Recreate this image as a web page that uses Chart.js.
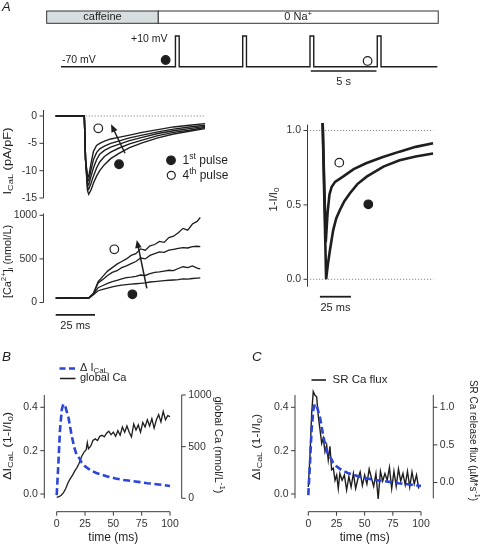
<!DOCTYPE html>
<html>
<head>
<meta charset="utf-8">
<title>I_CaL and SR Ca release</title>
<script src="https://cdn.jsdelivr.net/npm/chart.js@4.4.1/dist/chart.umd.min.js"></script>
<style>
  body { margin: 0; background: #fff; }
  #fig { position: relative; width: 480px; height: 544px; overflow: hidden; }
  #fig canvas { position: absolute; left: 0; top: 0; }
</style>
</head>
<body>
<div id="fig">
  <canvas id="cProt" width="480" height="544"></canvas>
  <canvas id="cCur" width="480" height="544"></canvas>
  <canvas id="cCa" width="480" height="544"></canvas>
  <canvas id="cInh" width="480" height="544"></canvas>
  <canvas id="cB" width="480" height="544"></canvas>
  <canvas id="cC" width="480" height="544"></canvas>
</div>
<script>
// ---------- data ----------

// A, protocol: time (s) / voltage (mV)
const protT = [-8.54, 0, 0, 0.28, 0.28, 5.02, 5.02, 5.3, 5.3, 10.04, 10.04, 10.32, 10.32, 15.06, 15.06, 15.34, 15.34, 19.54];
const protV = [-70, -70, 10, 10, -70, -70, 10, 10, -70, -70, 10, 10, -70, -70, 10, 10, -70, -70];
const solName = ['caffeine', '0 Na^{+}'];
const solFrom = [-9.61, -1.28];
const solTo = [-1.28, 19.61];
const protDotT = [-0.73, 14.34];
const protDotV = [-52.5, -55];
const protDotFill = [true, false];
const protBarT = [10.1, 15];   // 5 s

// A, I_CaL (pA/pF) vs time (ms), 1st pulse ... 4th pulse
const curT = [0, 18.2, 19, 20.2, 21, 22.5, 24, 26, 28, 31, 35, 40, 47, 55, 65, 75, 85, 95];
const curP1 = [0, 0, -8, -13.6, -14.3, -13.5, -12.3, -11.0, -10.0, -8.9, -7.8, -6.9, -5.8, -4.9, -4.0, -3.3, -2.8, -2.3];
const curP2 = [0, 0, -8, -12.9, -13.4, -12.3, -11.0, -9.5, -8.4, -7.4, -6.6, -5.9, -5.1, -4.4, -3.6, -3.0, -2.6, -2.1];
const curP3 = [0, 0, -8, -12.2, -12.6, -11.0, -9.5, -8.0, -7.0, -6.3, -5.7, -5.2, -4.5, -3.9, -3.2, -2.7, -2.3, -1.9];
const curP4 = [0, 0, -8, -11.5, -11.8, -9.8, -8.0, -6.7, -6.0, -5.5, -5.0, -4.6, -4.0, -3.5, -2.9, -2.4, -2.0, -1.7];
const curP5 = [0, 0, -8, -10.8, -11.1, -8.6, -6.5, -5.4, -5.0, -4.6, -4.2, -3.9, -3.5, -3.0, -2.5, -2.0, -1.7, -1.4];
const curZeroT = [0, 95];
const curZeroV = [0, 0];
const curDotT = [27.1, 40.3];
const curDotV = [-2.25, -8.83];
const curDotFill = [false, true];
const curArrowT = [44.1, 35.2];
const curArrowV = [-6.82, -1.5];
const curTicks = [0, -5, -10, -15];

// A, [Ca2+]i (nmol/L) vs time (ms)
const caT = [0, 3, 6, 9, 12, 15, 18, 21, 24, 27, 30, 33, 36, 39, 42, 45, 48, 51, 54, 57, 60, 63, 66, 69, 72, 75, 78, 81, 84, 87, 90, 92];
const caP1 = [48, 52, 50, 55, 49, 51, 53, 47, 90, 135, 150, 165, 180, 190, 200, 205, 210, 215, 220, 225, 235, 240, 245, 250, 255, 258, 262, 270, 268, 275, 280, 282];
const caP2 = [53, 49, 52, 47, 54, 50, 48, 52, 95, 170, 195, 220, 240, 255, 270, 285, 290, 300, 315, 310, 330, 345, 350, 360, 370, 365, 390, 410, 400, 420, 395, 385];
const caP3 = [50, 54, 47, 52, 49, 51, 55, 50, 100, 225, 265, 310, 345, 365, 400, 420, 445, 470, 510, 500, 540, 560, 580, 575, 600, 610, 620, 630, 625, 640, 645, 640];
const caP4 = [52, 48, 55, 50, 47, 53, 49, 56, 105, 240, 300, 360, 400, 440, 470, 500, 540, 560, 615, 600, 650, 665, 700, 690, 745, 760, 800, 850, 830, 900, 930, 975];
const caDotT = [37.3, 48.8];
const caDotV = [610, 94];
const caDotFill = [false, true];
const caArrowT = [58, 51.6];
const caArrowV = [163, 717];
const caTicks = [0, 500, 1000];

// A, 1 - I/I0 vs time (ms)
const inhT4 = [0, 2.5, 4, 5.5, 7.2, 10, 16.4, 25, 35, 48, 62, 75, 89];
const inh4 = [1.05, 0.25, 0.45, 0.57, 0.62, 0.655, 0.69, 0.74, 0.78, 0.82, 0.858, 0.89, 0.915];
const inhT1 = [0, 2.8, 4.2, 5.9, 8.5, 11, 13.9, 17.5, 22, 28, 35.5, 49, 62, 75, 89];
const inh1 = [1.05, 0.0, 0.1, 0.197, 0.331, 0.41, 0.466, 0.525, 0.578, 0.64, 0.69, 0.757, 0.8, 0.825, 0.845];
const inhRefT = [-10.2, 89.2];
const inhDotT = [13.4, 36.8];
const inhDotV = [0.784, 0.504];
const inhDotFill = [false, true];
const inhTicks = [0, 0.5, 1];
const inhTickLabels = ['0.0', '0.5', '1.0'];

// B and C, delta I_CaL (1-I/I0) vs time (ms)
const dT = [0, 1.5, 2.9, 4.5, 5.9, 7.5, 10.3, 13.2, 15.5, 17.6, 20, 22, 25, 29.4, 35, 44, 52, 59, 66, 73.5, 80, 90, 100];
const dIcal = [-0.005, 0.142, 0.295, 0.39, 0.415, 0.405, 0.355, 0.27, 0.215, 0.18, 0.165, 0.145, 0.128, 0.111, 0.097, 0.082, 0.072, 0.065, 0.06, 0.055, 0.05, 0.044, 0.037];

// B, global Ca (nmol/L) vs time (ms)
const gCaT = [0, 2, 4, 6, 8, 10, 12, 14, 16, 18, 20, 22, 24, 26, 27, 28, 30, 32, 34, 36, 38, 40, 42, 44, 46, 48, 50, 52, 54, 56, 58, 60, 62, 64, 66, 68, 70, 72, 74, 76, 78, 80, 82, 84, 86, 88, 90, 92, 94, 96, 98, 100];
const gCa = [10, 15, 30, 55, 95, 150, 190, 225, 265, 300, 345, 405, 445, 470, 540, 480, 505, 560, 575, 560, 600, 610, 595, 630, 650, 615, 640, 600, 655, 610, 690, 640, 700, 640, 595, 720, 660, 710, 640, 735, 690, 760, 700, 770, 680, 760, 810, 740, 840, 760, 800, 790];

// C, SR Ca release flux (uM/s) vs time (ms)
const srT = [0, 1.5, 3, 4.4, 5.9, 7.4, 8.9, 10.4, 11.9, 13.3, 14.8, 16.3, 17.7, 19.2, 20.7, 22.2, 23.7, 25.2, 26.6, 28,
  30, 32, 34, 36, 38, 40, 42, 44, 46, 48, 50, 52, 54, 56, 58, 60, 62, 64, 66, 68, 70, 72, 74, 76, 78, 80, 82, 84, 86, 88, 90, 92, 94, 96, 98];
const srFlux = [-0.06, 0.35, 0.92, 1.21, 1.16, 1.14, 0.88, 0.70, 0.52, 0.59, 0.41, 0.50, 0.30, 0.48, 0.17, 0.19, 0.03, 0.10, -0.08, 0.12,
  0.03, 0.10, -0.10, 0.08, -0.06, 0.12, -0.08, 0.05, 0.14, -0.04, 0.10, -0.02, 0.18, 0.06, -0.05, 0.12, -0.22, 0.15, 0.02, 0.12,
  0.03, 0.20, -0.08, 0.15, -0.05, 0.18, 0.02, 0.12, -0.03, 0.15, -0.06, 0.14, -0.02, 0.10, -0.08];

const timeTicks = [0, 25, 50, 75, 100];
const fracTicks = [0, 0.2, 0.4];
const fracTickLabels = ['0.0', '0.2', '0.4'];
const gCaTicks = [0, 500, 1000];
const srTicks = [0, 0.5, 1];
const srTickLabels = ['0.0', '0.5', '1.0'];

// ---------- helpers ----------
const FONT = '"Liberation Sans", Arial, Helvetica, sans-serif';
const INK = '#1e1e1e';
const AXC = '#3a3a3a';
const BLUE = '#2a45d8';

function pts(xs, ys) { return xs.map((x, i) => ({ x: x, y: ys[i] })); }

function pad(l, t, r, b) { return { left: l, top: t, right: 480 - r, bottom: 544 - b }; }

function trace(xs, ys, extra) {
  return Object.assign({
    data: pts(xs, ys), borderColor: INK, borderWidth: 1.3, pointRadius: 0,
    tension: 0, fill: false, clip: false
  }, extra || {});
}

function dots(xs, ys, filled) {
  return {
    data: pts(xs, ys), showLine: false, pointRadius: 4.3, pointBorderWidth: 1.2,
    pointBorderColor: INK, pointBackgroundColor: filled.map(f => f ? INK : '#fff'), clip: false
  };
}

function parse(str) {
  const out = [];
  const re = /([_^])\{([^}]*)\}|([^_^]+)/g;
  let m;
  while ((m = re.exec(str))) {
    if (m[1]) out.push({ t: m[2], k: m[1] });
    else out.push({ t: m[3], k: '' });
  }
  return out;
}

// text with _{sub} and ^{sup}; o: size, align, rot, fit, italic
function rich(ctx, str, x, y, o) {
  o = o || {};
  const size = o.size || 11, align = o.align || 'left';
  const segs = parse(str);
  ctx.save();
  ctx.translate(x, y);
  if (o.rot) ctx.rotate(o.rot);
  ctx.fillStyle = o.color || INK;
  ctx.textBaseline = 'middle';
  ctx.textAlign = 'left';
  let w = 0;
  segs.forEach(s => {
    s.sz = s.k ? size * 0.72 : size;
    s.f = (o.italic ? 'italic ' : '') + s.sz + 'px ' + FONT;
    ctx.font = s.f;
    s.w = ctx.measureText(s.t).width;
    s.dy = s.k === '_' ? size * 0.3 : s.k === '^' ? -size * 0.33 : 0;
    w += s.w;
  });
  if (o.fit) ctx.scale(o.fit / w, 1);
  let cx = align === 'center' ? -w / 2 : align === 'right' ? -w : 0;
  segs.forEach(s => {
    ctx.font = s.f;
    ctx.fillText(s.t, cx, s.dy);
    cx += s.w;
  });
  ctx.restore();
}

// R style detached vertical axis at page x
function vAxis(chart, sid, xPix, lo, hi, ticks, labels, side) {
  const s = chart.scales[sid], ctx = chart.ctx;
  ctx.save();
  ctx.strokeStyle = AXC;
  ctx.lineWidth = 1;
  ctx.beginPath();
  ctx.moveTo(xPix, s.getPixelForValue(hi));
  ctx.lineTo(xPix, s.getPixelForValue(lo));
  ticks.forEach(v => {
    const y = s.getPixelForValue(v);
    ctx.moveTo(xPix, y);
    ctx.lineTo(xPix + side * 4, y);
  });
  ctx.stroke();
  ctx.restore();
  ticks.forEach((v, i) => rich(ctx, String(labels[i]), xPix + side * 6.5, s.getPixelForValue(v),
    { size: 10.5, align: side < 0 ? 'right' : 'left', color: '#333' }));
}

function hAxis(chart, yPix, ticks) {
  const s = chart.scales.x, ctx = chart.ctx;
  ctx.save();
  ctx.strokeStyle = AXC;
  ctx.lineWidth = 1;
  ctx.beginPath();
  ctx.moveTo(s.getPixelForValue(ticks[0]), yPix);
  ctx.lineTo(s.getPixelForValue(ticks[ticks.length - 1]), yPix);
  ticks.forEach(v => {
    const x = s.getPixelForValue(v);
    ctx.moveTo(x, yPix);
    ctx.lineTo(x, yPix + 4);
  });
  ctx.stroke();
  ctx.restore();
  ticks.forEach(v => rich(ctx, String(v), s.getPixelForValue(v), yPix + 12.5, { size: 10.5, align: 'center', color: '#333' }));
}

function seg(ctx, x0, y0, x1, y1, lw, color, dash) {
  ctx.save();
  ctx.strokeStyle = color || INK;
  ctx.lineWidth = lw;
  if (dash) ctx.setLineDash(dash);
  ctx.beginPath();
  ctx.moveTo(x0, y0);
  ctx.lineTo(x1, y1);
  ctx.stroke();
  ctx.restore();
}

function arrow(chart, ts, vs) {
  const ctx = chart.ctx, sx = chart.scales.x, sy = chart.scales.y;
  const x0 = sx.getPixelForValue(ts[0]), y0 = sy.getPixelForValue(vs[0]);
  const x1 = sx.getPixelForValue(ts[1]), y1 = sy.getPixelForValue(vs[1]);
  const a = Math.atan2(y1 - y0, x1 - x0), L = 8, W = 3.3;
  seg(ctx, x0, y0, x1 - L * 0.7 * Math.cos(a), y1 - L * 0.7 * Math.sin(a), 1.5);
  ctx.save();
  ctx.fillStyle = INK;
  ctx.beginPath();
  ctx.moveTo(x1, y1);
  ctx.lineTo(x1 - L * Math.cos(a) + W * Math.sin(a), y1 - L * Math.sin(a) - W * Math.cos(a));
  ctx.lineTo(x1 - L * Math.cos(a) - W * Math.sin(a), y1 - L * Math.sin(a) + W * Math.cos(a));
  ctx.closePath();
  ctx.fill();
  ctx.restore();
}

function circle(ctx, x, y, r, filled) {
  ctx.save();
  ctx.beginPath();
  ctx.arc(x, y, r, 0, Math.PI * 2);
  ctx.fillStyle = filled ? INK : '#fff';
  ctx.fill();
  ctx.strokeStyle = INK;
  ctx.lineWidth = 1.2;
  ctx.stroke();
  ctx.restore();
}

function makeChart(id, datasets, scales, padding, draw) {
  return new Chart(document.getElementById(id), {
    type: 'line',
    data: { datasets: datasets },
    options: {
      responsive: false,
      animation: false,
      events: [],
      layout: { padding: padding },
      plugins: { legend: { display: false }, tooltip: { enabled: false } },
      scales: scales
    },
    plugins: [{ id: 'deco_' + id, afterDraw: draw }]
  });
}

function lin(min, max, pos) {
  return { type: 'linear', min: min, max: max, display: false, position: pos || 'left' };
}

// ---------- A: protocol ----------
makeChart('cProt',
  [dots(protDotT, protDotV, protDotFill), trace(protT, protV, { borderWidth: 1.4 })],
  { x: lin(-8.54, 19.54), y: lin(-70, 10) },
  pad(61, 36, 437.3, 66.7),
  function (chart) {
    const ctx = chart.ctx, sx = chart.scales.x, sy = chart.scales.y;
    solName.forEach((name, i) => {
      const x0 = sx.getPixelForValue(solFrom[i]), x1 = sx.getPixelForValue(solTo[i]);
      ctx.save();
      ctx.fillStyle = i === 0 ? '#d7dee0' : '#fff';
      ctx.fillRect(x0, 11, x1 - x0, 12.3);
      ctx.strokeStyle = '#333';
      ctx.lineWidth = 1;
      ctx.strokeRect(x0, 11, x1 - x0, 12.3);
      ctx.restore();
      rich(ctx, name, (x0 + x1) / 2, 17.3, { size: 11, align: 'center' });
    });
    const yb = sy.getPixelForValue(-81.2);
    seg(ctx, sx.getPixelForValue(protBarT[0]), yb, sx.getPixelForValue(protBarT[1]), yb, 1.4);
    rich(ctx, '5 s', (sx.getPixelForValue(protBarT[0]) + sx.getPixelForValue(protBarT[1])) / 2, 82, { size: 11, align: 'center' });
    rich(ctx, '+10 mV', 167.5, 38.8, { size: 10.5, align: 'right' });
    rich(ctx, '-70 mV', 62, 60.5, { size: 10.5 });
    rich(ctx, 'A', 2, 7, { size: 13, italic: true });
  });

// ---------- A: I_CaL ----------
makeChart('cCur',
  [dots(curDotT, curDotV, curDotFill),
   trace(curT, curP5, { borderWidth: 1.4 }), trace(curT, curP4, { borderWidth: 1.4 }),
   trace(curT, curP3, { borderWidth: 1.4 }), trace(curT, curP2, { borderWidth: 1.4 }),
   trace(curT, curP1, { borderWidth: 1.4 }),
   trace(curZeroT, curZeroV, { borderColor: '#8a8a8a', borderWidth: 1, borderDash: [1.2, 1.8] })],
  { x: lin(0, 95), y: lin(-15, 0) },
  pad(55.7, 116, 205, 198),
  function (chart) {
    const ctx = chart.ctx;
    vAxis(chart, 'y', 43.5, -15, 1.1, curTicks, curTicks, -1);
    arrow(chart, curArrowT, curArrowV);
    circle(ctx, 171, 160.3, 4.3, true);
    circle(ctx, 171.3, 175.3, 4, false);
    rich(ctx, '1^{st} pulse', 182.5, 160.5, { size: 12 });
    rich(ctx, '4^{th} pulse', 182.5, 175.5, { size: 12 });
    rich(ctx, 'I_{CaL} (pA/pF)', 7.5, 161, { size: 11, align: 'center', rot: -Math.PI / 2, fit: 67 });
  });

// ---------- A: [Ca2+]i ----------
makeChart('cCa',
  [dots(caDotT, caDotV, caDotFill),
   trace(caT, caP4), trace(caT, caP3), trace(caT, caP2), trace(caT, caP1)],
  { x: lin(0, 95), y: lin(0, 1000) },
  pad(55.7, 215.3, 205, 302.5),
  function (chart) {
    const ctx = chart.ctx, sx = chart.scales.x, sy = chart.scales.y;
    vAxis(chart, 'y', 43.5, 0, 1020, caTicks, caTicks, -1);
    arrow(chart, caArrowT, caArrowV);
    const yb = sy.getPixelForValue(-143);
    seg(ctx, sx.getPixelForValue(0), yb, sx.getPixelForValue(25), yb, 1.8);
    rich(ctx, '25 ms', (sx.getPixelForValue(0) + sx.getPixelForValue(25)) / 2, 325.5, { size: 11, align: 'center' });
    rich(ctx, '[Ca^{2+}]_{i} (nmol/L)', 7.5, 261.5, { size: 11, align: 'center', rot: -Math.PI / 2, fit: 73 });
  });

// ---------- A: 1 - I/I0 ----------
makeChart('cInh',
  [dots(inhDotT, inhDotV, inhDotFill),
   trace(inhT4, inh4, { borderWidth: 2.6 }), trace(inhT1, inh1, { borderWidth: 2.6 }),
   trace(inhRefT, [1, 1], { borderColor: '#8a8a8a', borderWidth: 1, borderDash: [1.2, 1.8] }),
   trace(inhRefT, [0, 0], { borderColor: '#8a8a8a', borderWidth: 1, borderDash: [1.2, 1.8] })],
  { x: lin(-10.2, 89.2), y: lin(0, 1) },
  pad(310, 130.5, 433.3, 279.3),
  function (chart) {
    const ctx = chart.ctx, sx = chart.scales.x, sy = chart.scales.y;
    vAxis(chart, 'y', 307.5, -0.05, 1.04, inhTicks, inhTickLabels, -1);
    const yb = sy.getPixelForValue(-0.117);
    seg(ctx, sx.getPixelForValue(-2.2), yb, sx.getPixelForValue(22.8), yb, 1.8);
    rich(ctx, '25 ms', (sx.getPixelForValue(-2.2) + sx.getPixelForValue(22.8)) / 2, 307.5, { size: 11, align: 'center' });
    rich(ctx, '1-I/I_{0}', 273.5, 199.5, { size: 11, align: 'center', rot: -Math.PI / 2, fit: 24 });
  });

// ---------- B ----------
makeChart('cB',
  [trace(dT, dIcal, { borderColor: BLUE, borderWidth: 2.6, borderDash: [7, 3.5] }),
   trace(gCaT, gCa, { yAxisID: 'y2', borderWidth: 1.3 })],
  { x: lin(0, 100), y: lin(-0.0198, 0.4568), y2: lin(0, 1000, 'right') },
  pad(56.7, 395, 170, 498.3),
  function (chart) {
    const ctx = chart.ctx;
    vAxis(chart, 'y', 44.3, -0.0198, 0.4568, fracTicks, fracTickLabels, -1);
    vAxis(chart, 'y2', 181.7, 0, 1000, gCaTicks, gCaTicks, 1);
    hAxis(chart, 511.7, timeTicks);
    rich(ctx, 'time (ms)', 113.3, 538, { size: 12, align: 'center' });
    seg(ctx, 59.5, 368.5, 75.5, 368.5, 2.6, BLUE, [6, 3.5]);
    rich(ctx, '\u0394 I_{CaL}', 80, 368, { size: 11 });
    seg(ctx, 60, 378.5, 75.5, 378.5, 1.5, INK);
    rich(ctx, 'global Ca', 80, 378.3, { size: 11 });
    rich(ctx, '\u0394I_{CaL} (1-I/I_{0})', 7.5, 446, { size: 11, align: 'center', rot: -Math.PI / 2, fit: 68 });
    rich(ctx, 'global Ca (nmol/L^{-1})', 218.5, 445, { size: 11, align: 'center', rot: Math.PI / 2, fit: 97 });
    rich(ctx, 'B', 2, 357, { size: 13.5, italic: true });
  });

// ---------- C ----------
makeChart('cC',
  [trace(dT, dIcal, { borderColor: BLUE, borderWidth: 2.6, borderDash: [7, 3.5] }),
   trace(srT, srFlux, { yAxisID: 'y2', borderWidth: 1.4 })],
  { x: lin(0, 100), y: lin(-0.0198, 0.4568), y2: lin(-0.21, 1.1636, 'right') },
  pad(308.3, 395, 421, 498.3),
  function (chart) {
    const ctx = chart.ctx;
    vAxis(chart, 'y', 295, -0.0198, 0.4568, fracTicks, fracTickLabels, -1);
    vAxis(chart, 'y2', 433.3, -0.21, 1.1636, srTicks, srTickLabels, 1);
    hAxis(chart, 511.7, timeTicks);
    rich(ctx, 'time (ms)', 364.7, 538, { size: 12, align: 'center' });
    seg(ctx, 311.5, 380, 326, 380, 1.6, INK);
    rich(ctx, 'SR Ca flux', 332.5, 380, { size: 11.5 });
    rich(ctx, '\u0394I_{CaL} (1-I/I_{0})', 257, 447, { size: 11, align: 'center', rot: -Math.PI / 2, fit: 66 });
    rich(ctx, 'SR Ca release flux (\u00b5M*s^{-1})', 473.3, 440.5, { size: 11, align: 'center', rot: Math.PI / 2, fit: 121 });
    rich(ctx, 'C', 252, 357.5, { size: 13.5, italic: true });
  });
</script>
</body>
</html>
